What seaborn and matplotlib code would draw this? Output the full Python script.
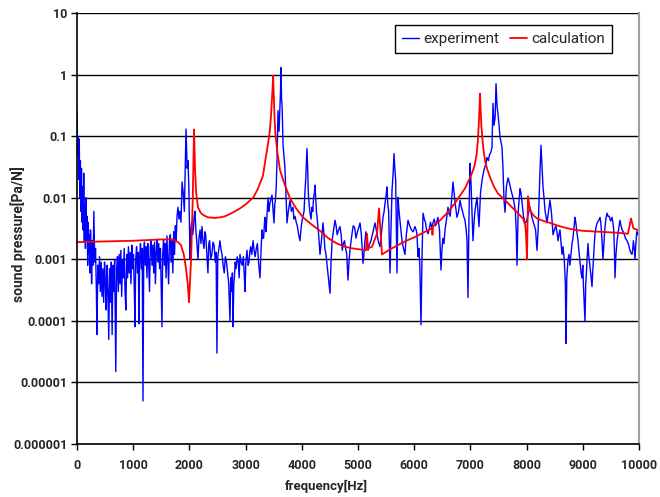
import matplotlib
matplotlib.use("Agg")
import matplotlib.pyplot as plt
import seaborn as sns
import pandas as pd

# ---- data ----
exp_freq = [0, 10, 20, 30, 40, 50, 60, 70, 80, 90, 100, 110, 120, 130, 140, 150, 160, 170, 180, 190,
            200, 210, 220, 230, 240, 250, 260, 270, 285, 300, 315, 330, 345, 355, 370, 385, 400, 415, 430, 445,
            460, 475, 490, 505, 520, 535, 550, 565, 580, 595, 610, 625, 640, 655, 670, 690, 705, 720, 735, 750,
            765, 780, 795, 810, 825, 840, 855, 870, 885, 900, 915, 930, 945, 960, 975, 990, 1005, 1020, 1032, 1045,
            1060, 1075, 1090, 1103, 1115, 1130, 1145, 1160, 1174, 1188, 1200, 1215, 1230, 1245, 1260, 1275, 1290, 1305, 1320, 1335,
            1350, 1365, 1380, 1395, 1410, 1425, 1440, 1455, 1470, 1485, 1500, 1512, 1525, 1540, 1555, 1570, 1585, 1600, 1615, 1630,
            1645, 1660, 1675, 1690, 1705, 1720, 1735, 1750, 1765, 1780, 1797, 1815, 1830, 1850, 1870, 1890, 1910, 1925, 1940, 1960,
            1975, 1990, 2011, 2025, 2040, 2055, 2070, 2085, 2100, 2115, 2130, 2153, 2170, 2190, 2205, 2224, 2240, 2260, 2275, 2290,
            2310, 2330, 2345, 2360, 2380, 2400, 2420, 2440, 2460, 2475, 2490, 2505, 2520, 2544, 2560, 2580, 2600, 2620, 2640, 2660,
            2680, 2700, 2722, 2735, 2750, 2765, 2776, 2790, 2800, 2815, 2830, 2850, 2870, 2885, 2900, 2920, 2940, 2960, 2975, 2989,
            3005, 3025, 3045, 3060, 3075, 3090, 3110, 3132, 3150, 3170, 3190, 3210, 3230, 3256, 3275, 3292, 3305, 3320, 3335, 3345,
            3360, 3370, 3385, 3399, 3415, 3430, 3450, 3470, 3490, 3505, 3520, 3530, 3545, 3559, 3577, 3595, 3610, 3620, 3630, 3640,
            3650, 3665, 3680, 3700, 3720, 3737, 3760, 3790, 3815, 3843, 3860, 3880, 3900, 3920, 3945, 3968, 3985, 4000, 4020, 4040,
            4055, 4070, 4080, 4092, 4105, 4115, 4130, 4146, 4165, 4180, 4195, 4210, 4225, 4235, 4250, 4260, 4280, 4300, 4324, 4350,
            4377, 4395, 4410, 4430, 4450, 4475, 4502, 4520, 4540, 4565, 4591, 4610, 4630, 4655, 4680, 4700, 4720, 4740, 4760, 4780,
            4800, 4822, 4840, 4860, 4893, 4915, 4940, 4965, 4990, 5010, 5036, 5060, 5089, 5105, 5120, 5140, 5160, 5178, 5200, 5230,
            5260, 5302, 5320, 5340, 5365, 5391, 5420, 5445, 5465, 5480, 5500, 5516, 5530, 5545, 5570, 5590, 5605, 5625, 5641, 5655,
            5670, 5694, 5712, 5730, 5750, 5765, 5783, 5810, 5836, 5860, 5890, 5920, 5950, 5980, 6014, 6035, 6050, 6068, 6085, 6100,
            6121, 6140, 6157, 6180, 6200, 6220, 6246, 6270, 6290, 6310, 6335, 6355, 6380, 6400, 6423, 6450, 6477, 6495, 6510, 6530,
            6548, 6575, 6601, 6620, 6640, 6665, 6690, 6710, 6730, 6761, 6790, 6815, 6840, 6860, 6880, 6904, 6925, 6940, 6957, 6975,
            6993, 7010, 7020, 7035, 7046, 7065, 7080, 7100, 7117, 7135, 7153, 7180, 7206, 7230, 7250, 7275, 7295, 7320, 7340, 7365,
            7384, 7402, 7420, 7440, 7456, 7475, 7491, 7510, 7527, 7545, 7562, 7580, 7598, 7616, 7640, 7669, 7690, 7710, 7735, 7758,
            7780, 7800, 7815, 7829, 7850, 7883, 7900, 7920, 7945, 7972, 7995, 8020, 8040, 8060, 8090, 8120, 8140, 8160, 8185, 8205,
            8220, 8240, 8256, 8275, 8292, 8310, 8330, 8345, 8363, 8390, 8416, 8440, 8455, 8470, 8495, 8520, 8540, 8560, 8575, 8594,
            8610, 8630, 8648, 8670, 8690, 8701, 8715, 8737, 8755, 8770, 8790, 8808, 8825, 8840, 8861, 8875, 8890, 8915, 8930, 8950,
            8970, 8986, 9000, 9010, 9025, 9039, 9052, 9065, 9080, 9093, 9105, 9120, 9140, 9164, 9175, 9190, 9205, 9217, 9240, 9260,
            9280, 9306, 9320, 9330, 9345, 9359, 9375, 9390, 9410, 9431, 9450, 9470, 9495, 9520, 9535, 9550, 9562, 9573, 9590, 9610,
            9635, 9662, 9680, 9700, 9720, 9740, 9760, 9786, 9810, 9830, 9850, 9875, 9890, 9900, 9915, 9929, 9945, 9960, 9980, 10000]
exp_value = [0.25, 0.05, 0.1, 0.02, 0.09, 0.01, 0.04, 0.006, 0.03, 0.004, 0.015, 0.003, 0.025, 0.002, 0.008, 0.0015, 0.01, 0.002, 0.005, 0.0008,
             0.004, 0.0012, 0.0025, 0.0006, 0.003, 0.0015, 0.0004, 0.002, 0.0008, 0.006, 0.0009, 0.0015, 0.0003, 0.00006, 0.0008, 0.0004, 0.0011, 0.0003, 0.0009, 0.00025,
             0.0007, 0.0002, 0.0009, 0.0004, 0.00015, 0.0008, 0.0003, 0.00005, 0.0007, 0.0002, 0.0009, 0.00006, 0.0008, 0.0003, 0.001, 0.000015, 0.0007, 0.0011, 0.0003, 0.0012,
             0.0004, 0.0014, 0.00025, 0.001, 0.0005, 0.0015, 0.0003, 0.00015, 0.0012, 0.0005, 0.0016, 0.0006, 0.0013, 0.0004, 0.0017, 0.0007, 0.0012, 0.0003, 0.00008, 0.001,
             0.0016, 0.0006, 0.0013, 0.00009, 0.0011, 0.0018, 0.0007, 0.0015, 0.000005, 0.0014, 0.0019, 0.0008, 0.0016, 0.0005, 0.0018, 0.0009, 0.0003, 0.0016, 0.002, 0.0008,
             0.0017, 0.0006, 0.0019, 0.0004, 0.0013, 0.0021, 0.0009, 0.0018, 0.0007, 0.0015, 0.0003, 0.00008, 0.0012, 0.0021, 0.0008, 0.0018, 0.0005, 0.0024, 0.001, 0.0004,
             0.0019, 0.0025, 0.0009, 0.0021, 0.0006, 0.0028, 0.0012, 0.0035, 0.002, 0.005, 0.007, 0.0045, 0.006, 0.004, 0.018, 0.012, 0.006, 0.03, 0.13, 0.03,
             0.04, 0.015, 0.001, 0.003, 0.004, 0.0025, 0.003, 0.005, 0.006, 0.003, 0.002, 0.001, 0.0022, 0.003, 0.0018, 0.0034, 0.002, 0.0015, 0.0028, 0.0025,
             0.0012, 0.0006, 0.0018, 0.002, 0.001, 0.0012, 0.0019, 0.0017, 0.0009, 0.0013, 0.00003, 0.0011, 0.0014, 0.002, 0.0015, 0.0012, 0.0008, 0.0006, 0.0011, 0.0009,
             0.0006, 0.0004, 0.0001, 0.0005, 0.0003, 0.0006, 0.00008, 0.0004, 0.0005, 0.0009, 0.0007, 0.0011, 0.0009, 0.0005, 0.0012, 0.0009, 0.0008, 0.0011, 0.0006, 0.0003,
             0.0009, 0.0014, 0.0008, 0.0009, 0.0013, 0.0016, 0.0012, 0.002, 0.0014, 0.0011, 0.0015, 0.0018, 0.0009, 0.0005, 0.0014, 0.003, 0.0022, 0.0022, 0.0038, 0.0048,
             0.0028, 0.0035, 0.006, 0.01, 0.006, 0.008, 0.0095, 0.011, 0.006, 0.0039, 0.008, 0.009, 0.015, 0.04, 0.26, 0.12, 0.3, 0.5, 1.3, 0.4,
             0.3, 0.076, 0.05, 0.031, 0.01, 0.0039, 0.006, 0.0091, 0.006, 0.007, 0.0045, 0.005, 0.004, 0.0035, 0.0025, 0.002, 0.003, 0.004, 0.005, 0.006,
             0.012, 0.02, 0.035, 0.063, 0.03, 0.012, 0.008, 0.0056, 0.0045, 0.007, 0.006, 0.01, 0.012, 0.016, 0.009, 0.006, 0.004, 0.0025, 0.0012, 0.002,
             0.0039, 0.0025, 0.0015, 0.0012, 0.0008, 0.0005, 0.00028, 0.0009, 0.002, 0.003, 0.0043, 0.0035, 0.0025, 0.003, 0.0034, 0.0025, 0.0014, 0.0018, 0.002, 0.0015,
             0.0012, 0.00046, 0.0009, 0.0015, 0.0026, 0.0035, 0.0033, 0.0022, 0.0028, 0.0032, 0.0039, 0.0025, 0.00086, 0.0012, 0.0018, 0.0028, 0.002, 0.0014, 0.0017, 0.002,
             0.0026, 0.0039, 0.0032, 0.0025, 0.0019, 0.0016, 0.0028, 0.0048, 0.006, 0.008, 0.011, 0.015, 0.008, 0.006, 0.0006, 0.004, 0.013, 0.025, 0.052, 0.03,
             0.02, 0.0006, 0.0101, 0.006, 0.004, 0.003, 0.002, 0.0015, 0.0012, 0.0025, 0.0043, 0.0035, 0.003, 0.0028, 0.0034, 0.003, 0.0025, 0.0011, 0.0015, 0.0008,
             0.000086, 0.0012, 0.0056, 0.0045, 0.004, 0.003, 0.0026, 0.0032, 0.004, 0.0033, 0.0039, 0.0045, 0.0035, 0.004, 0.0048, 0.003, 0.00067, 0.0015, 0.0022, 0.0018,
             0.003, 0.0045, 0.007, 0.0055, 0.005, 0.009, 0.018, 0.012, 0.008, 0.0048, 0.006, 0.0091, 0.007, 0.006, 0.005, 0.0043, 0.003, 0.002, 0.00024, 0.005,
             0.036, 0.018, 0.01, 0.004, 0.002, 0.004, 0.006, 0.008, 0.0101, 0.006, 0.0034, 0.012, 0.019, 0.025, 0.03, 0.035, 0.045, 0.04, 0.05, 0.055,
             0.066, 0.34, 0.15, 0.2, 0.71, 0.3, 0.23, 0.15, 0.095, 0.08, 0.066, 0.03, 0.0091, 0.0058, 0.015, 0.021, 0.018, 0.015, 0.012, 0.0101,
             0.008, 0.006, 0.003, 0.0008, 0.006, 0.014, 0.012, 0.008, 0.005, 0.0039, 0.004, 0.005, 0.006, 0.007, 0.005, 0.004, 0.0035, 0.003, 0.0014, 0.003,
             0.008, 0.03, 0.071, 0.03, 0.015, 0.01, 0.006, 0.005, 0.0039, 0.006, 0.0091, 0.006, 0.004, 0.0025, 0.003, 0.0035, 0.0028, 0.002, 0.0025, 0.003,
             0.002, 0.0012, 0.0016, 0.001, 0.0004, 0.000043, 0.0005, 0.001, 0.0012, 0.0008, 0.0012, 0.0018, 0.0022, 0.003, 0.0048, 0.004, 0.003, 0.002, 0.0014, 0.0009,
             0.0006, 0.0005, 0.0008, 0.0004, 0.0002, 0.000097, 0.0004, 0.0006, 0.0012, 0.0018, 0.0012, 0.0009, 0.0006, 0.00036, 0.0006, 0.001, 0.0018, 0.0026, 0.0035, 0.004,
             0.0042, 0.0048, 0.004, 0.003, 0.0018, 0.001, 0.0018, 0.003, 0.0045, 0.0056, 0.005, 0.005, 0.0042, 0.0048, 0.004, 0.003, 0.0015, 0.0005, 0.0012, 0.002,
             0.003, 0.0043, 0.0035, 0.003, 0.0028, 0.0025, 0.0022, 0.002, 0.0018, 0.0015, 0.0013, 0.0012, 0.0015, 0.002, 0.0015, 0.001, 0.0018, 0.0028, 0.0025, 0.003]

calc_freq = [0, 500, 1000, 1500, 1700, 1797, 1850, 1900, 1940, 1970, 1993, 2030, 2060, 2082, 2100, 2120, 2153, 2200, 2250, 2330, 2450,
             2550, 2633, 2750, 2900, 3000, 3137, 3220, 3310, 3350, 3400, 3430, 3450, 3465, 3480, 3490, 3500, 3515, 3530, 3560, 3612,
             3700, 3790, 3900, 4020, 4170, 4324, 4470, 4626, 4770, 4911, 5030, 5142, 5160,
             5178, 5249, 5338, 5374, 5427, 5570, 5712, 5860, 6014, 6160, 6317, 6325, 6335, 6345, 6450, 6548, 6640, 6726, 6820, 6904,
             6970, 7028, 7070, 7110, 7135, 7152, 7163, 7171,
             7180, 7195, 7224, 7260, 7300, 7349, 7420, 7491, 7616, 7720, 7829, 7936, 7975, 7989, 8007, 8025, 8060, 8120, 8185,
             8300, 8416, 8560, 8719, 8860, 9004, 9150, 9306, 9450, 9609,
             9804, 9858, 9900, 10000]
calc_value = [0.0019, 0.00195, 0.002, 0.0021, 0.0021, 0.0019, 0.0017, 0.0012, 0.0007, 0.0004, 0.0002, 0.001, 0.01, 0.128, 0.03, 0.012, 0.007, 0.0057, 0.0052, 0.0048, 0.0047,
              0.0048, 0.005, 0.0056, 0.0067, 0.0078, 0.0101, 0.014, 0.023, 0.04, 0.076, 0.12, 0.2, 0.35, 0.6, 0.96, 0.5, 0.2, 0.11, 0.06, 0.028,
              0.016, 0.0098, 0.0067, 0.0048, 0.0037, 0.0029, 0.0022, 0.0018, 0.0016, 0.0015, 0.00145, 0.0014, 0.0026,
              0.0015, 0.0016, 0.0026, 0.0067, 0.0012, 0.00145, 0.0017, 0.002, 0.0023, 0.0027, 0.0032, 0.0025, 0.0034, 0.0035, 0.0042, 0.0052, 0.0065, 0.0082, 0.011, 0.0142,
              0.019, 0.025, 0.032, 0.05, 0.09, 0.18, 0.3, 0.49,
              0.3, 0.15, 0.07, 0.04, 0.029, 0.0215, 0.015, 0.0117, 0.0091, 0.0073, 0.0058, 0.0046, 0.0036, 0.0026, 0.001, 0.0106, 0.0063, 0.0052, 0.0046,
              0.0042, 0.0039, 0.0035, 0.0032, 0.003, 0.0029, 0.00285, 0.0028, 0.00275, 0.0027,
              0.0026, 0.0046, 0.0032, 0.0029]

y_ticks = [1e1, 1e0, 1e-1, 1e-2, 1e-3, 1e-4, 1e-5, 1e-6]
y_labels = ["10", "1", "0.1", "0.01", "0.001", "0.0001", "0.00001", "0.000001"]
x_ticks = [0, 1000, 2000, 3000, 4000, 5000, 6000, 7000, 8000, 9000, 10000]

# ---- plot ----
sns.set_style("white")
plt.rcParams['font.family'] = ['Roboto', 'DejaVu Sans']

fig = plt.figure(figsize=(6.6, 4.97), dpi=100)
ax = fig.add_axes([77/660, 1-444/497, (639-77)/660, (444-13)/497])

exp_df = pd.DataFrame({"frequency": exp_freq, "value": exp_value})
calc_df = pd.DataFrame({"frequency": calc_freq, "value": calc_value})

sns.lineplot(data=exp_df, x="frequency", y="value", ax=ax, color="#0000ff", lw=1.0,
             estimator=None, sort=False, label="experiment")
sns.lineplot(data=calc_df, x="frequency", y="value", ax=ax, color="#ff0000", lw=1.3,
             estimator=None, sort=False, label="calculation")

ax.set_yscale("log")
ax.set_xlim(0, 10000)
ax.set_ylim(1e-6, 10)
ax.set_yticks(y_ticks)
ax.set_yticklabels(y_labels)
ax.minorticks_off()
ax.set_xticks(x_ticks)
ax.set_xticklabels([str(t) for t in x_ticks])

for t in y_ticks:
    ax.axhline(t, color="black", lw=1.0, zorder=0)

for lbl in ax.get_xticklabels() + ax.get_yticklabels():
    lbl.set_fontweight("bold")
    lbl.set_fontsize(9)

ax.tick_params(axis="both", direction="out", length=4, width=1, color="black",
               bottom=True, left=True)
ax.tick_params(axis="x", pad=7)
ax.tick_params(axis="y", pad=3)

ax.spines["left"].set_color("black")
ax.spines["bottom"].set_color("black")
ax.spines["left"].set_linewidth(1.2)
ax.spines["bottom"].set_linewidth(1.2)
ax.spines["top"].set_visible(False)
ax.spines["right"].set_color("#a0a0a0")
ax.spines["right"].set_linewidth(1.5)

ax.set_xlabel("frequency[Hz]", fontsize=9.5, fontweight="bold")
ax.set_ylabel("sound pressure[Pa/N]", fontsize=10, fontweight="bold")
ax.xaxis.set_label_coords((326-77)/562, -(480-444)/431)
ax.yaxis.set_label_coords(-(77-26)/562, (444-234)/431)

leg = ax.legend(loc="upper right", bbox_to_anchor=(612/660, 1-25/497), bbox_transform=fig.transFigure,
                ncol=2, frameon=True, fancybox=False, framealpha=1, edgecolor="black",
                fontsize=11, handlelength=1.1, handletextpad=0.3, columnspacing=0.7,
                borderpad=0.45, borderaxespad=0)
leg.get_frame().set_linewidth(1.0)

fig.savefig("out.png", dpi=100)
